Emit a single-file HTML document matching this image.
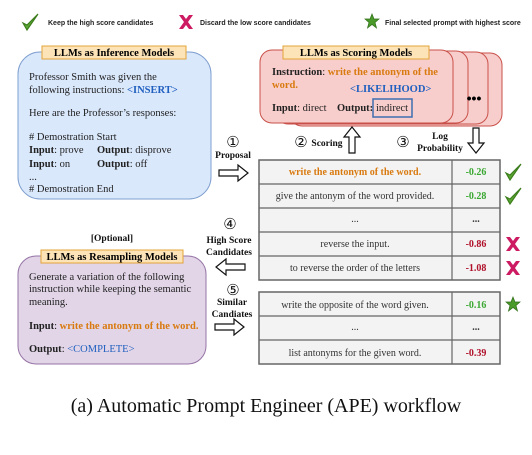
<!DOCTYPE html>
<html><head><style>
html,body{margin:0;padding:0;background:#fff;}
svg{display:block;}
.s{font-family:"Liberation Serif",serif;}
.a{font-family:"Liberation Sans",sans-serif;}
</style></head><body>
<svg width="532" height="455" viewBox="0 0 532 455" xmlns="http://www.w3.org/2000/svg">
<defs>
<g id="chk"><path d="M-7,1 L-3,8 L8,-8 L-3,3 Z" fill="#5aa832" stroke="#3d7d1d" stroke-width="1.2"/></g>
<g id="xx"><path d="M-7,-7 L-3,-7 L0,-3 L3,-7 L7,-7 L2,0 L7,7 L3,7 L0,3 L-3,7 L-7,7 L-2,0 Z" fill="#cc1a63"/></g>
<g id="star"><polygon points="0,-7 2,-2 7,-2 3,1.5 4.5,7 0,3.5 -4.5,7 -3,1.5 -7,-2 -2,-2" fill="#4a9a2a" stroke="#2f6d18" stroke-width="0.7"/></g>
</defs>
<use href="#chk" x="30" y="22"/>
<text x="48" y="25" class="a" font-size="7" font-weight="bold" fill="#222">Keep the high score candidates</text>
<use href="#xx" x="186" y="22"/>
<text x="200" y="25" class="a" font-size="7" font-weight="bold" fill="#222">Discard the low score candidates</text>
<use href="#star" x="372" y="21"/>
<text x="385" y="25" class="a" font-size="7" font-weight="bold" fill="#222">Final selected prompt with highest score</text>

<rect x="18" y="52" width="193" height="147" rx="22" fill="#dae8fc" stroke="#7f9fcf" stroke-width="1"/>
<rect x="42" y="46" width="144" height="13" fill="#fde4b8" stroke="#e3a33a" stroke-width="1"/>
<text x="114" y="56" text-anchor="middle" class="s" font-size="10.5" font-weight="bold">LLMs as Inference Models</text>
<g class="s" font-size="10.5" fill="#222">
<text x="29" y="80">Professor Smith was given the</text>
<text x="29" y="93">following instructions: <tspan fill="#1f5fbf" font-weight="bold">&lt;INSERT&gt;</tspan></text>
<text x="29" y="116">Here are the Professor’s responses:</text>
<text x="29" y="140"># Demostration Start</text>
<text x="29" y="153"><tspan font-weight="bold">Input</tspan>: prove</text><text x="97" y="153"><tspan font-weight="bold">Output</tspan>: disprove</text>
<text x="29" y="167"><tspan font-weight="bold">Input</tspan>: on</text><text x="97" y="167"><tspan font-weight="bold">Output</tspan>: off</text>
<text x="29" y="180">...</text>
<text x="29" y="192"># Demostration End</text>
</g>

<rect x="290" y="53" width="212" height="73" rx="12" fill="#f8cecc" stroke="#c9504a"/>
<rect x="276" y="52" width="212" height="72" rx="12" fill="#f8cecc" stroke="#c9504a"/>
<rect x="268" y="51" width="200" height="72" rx="12" fill="#f8cecc" stroke="#c9504a"/>
<rect x="260" y="50" width="193" height="73" rx="12" fill="#f8cecc" stroke="#c9504a"/>
<text x="474" y="103" text-anchor="middle" font-size="14" font-weight="bold" class="a">•••</text>
<rect x="283" y="46" width="146" height="13" fill="#fde4b8" stroke="#e3a33a"/>
<text x="356" y="56" text-anchor="middle" class="s" font-size="10.5" font-weight="bold">LLMs as Scoring Models</text>
<g class="s" font-size="10.5" fill="#222">
<text x="272" y="75"><tspan font-weight="bold">Instruction</tspan>: <tspan fill="#d97a10" font-weight="bold">write the antonym of the</tspan></text>
<text x="272" y="88" fill="#d97a10" font-weight="bold">word.</text>
<text x="350" y="92" fill="#1f5fbf" font-weight="bold">&lt;LIKELIHOOD&gt;</text>
<text x="272" y="111"><tspan font-weight="bold">Input</tspan>: direct</text>
<text x="337" y="111" font-weight="bold">Output:</text>
<text x="376" y="111">indirect</text>
</g>
<rect x="373" y="99" width="39" height="18" fill="none" stroke="#3c6fb0" stroke-width="1.5"/>

<g class="s" font-weight="bold" font-size="9.5" text-anchor="middle" fill="#111">
<text x="233" y="147" font-size="15" font-weight="normal">①</text>
<text x="233" y="158">Proposal</text>
<text x="301" y="147" font-size="15" font-weight="normal">②</text>
<text x="327" y="146">Scoring</text>
<text x="403" y="147" font-size="15" font-weight="normal">③</text>
<text x="440" y="139">Log</text>
<text x="440" y="151">Probability</text>
<text x="230" y="229" font-size="15" font-weight="normal">④</text>
<text x="229" y="243">High Score</text>
<text x="229" y="255">Candidates</text>
<text x="233" y="295" font-size="15" font-weight="normal">⑤</text>
<text x="232" y="305">Similar</text>
<text x="232" y="317">Candiates</text>
<text x="112" y="241">[Optional]</text>
</g>
<g fill="#fff" stroke="#111" stroke-width="1.2">
<polygon points="219,170 238,170 238,165 248,173 238,181 238,176 219,176"/>
<polygon points="349,153 349,137 344,137 352,127 360,137 355,137 355,153"/>
<polygon points="473,128 473,143 468,143 476,153 484,143 479,143 479,128"/>
<polygon points="245,264 226,264 226,259 216,267 226,275 226,270 245,270"/>
<polygon points="215,324 234,324 234,319 244,327 234,335 234,330 215,330"/>
</g>

<g stroke="#666" stroke-width="1.5" fill="#f3f3f3">
<rect x="259" y="160" width="241" height="120"/>
<rect x="259" y="292" width="241" height="72"/>
</g>
<g stroke="#666" stroke-width="1.2">
<line x1="452" y1="160" x2="452" y2="280"/>
<line x1="452" y1="292" x2="452" y2="364"/>
<line x1="259" y1="184" x2="500" y2="184"/>
<line x1="259" y1="208" x2="500" y2="208"/>
<line x1="259" y1="232" x2="500" y2="232"/>
<line x1="259" y1="256" x2="500" y2="256"/>
<line x1="259" y1="316" x2="500" y2="316"/>
<line x1="259" y1="340" x2="500" y2="340"/>
</g>
<g class="s" font-size="10" text-anchor="middle" fill="#333">
<text x="355" y="175" fill="#d97a10" font-weight="bold">write the antonym of the word.</text>
<text x="355" y="199">give the antonym of the word provided.</text>
<text x="355" y="222">...</text>
<text x="355" y="247">reverse the input.</text>
<text x="355" y="271">to reverse the order of the letters</text>
<text x="355" y="308">write the opposite of the word given.</text>
<text x="355" y="330">...</text>
<text x="355" y="356">list antonyms for the given word.</text>
</g>
<g class="s" font-size="10" font-weight="bold" text-anchor="middle">
<text x="476" y="175" fill="#3aa832">-0.26</text>
<text x="476" y="199" fill="#3aa832">-0.28</text>
<text x="476" y="222" fill="#333">...</text>
<text x="476" y="247" fill="#b0102a">-0.86</text>
<text x="476" y="271" fill="#b0102a">-1.08</text>
<text x="476" y="308" fill="#3aa832">-0.16</text>
<text x="476" y="330" fill="#333">...</text>
<text x="476" y="356" fill="#b0102a">-0.39</text>
</g>
<use href="#chk" x="513" y="172"/>
<use href="#chk" x="513" y="196"/>
<use href="#xx" x="513" y="244"/>
<use href="#xx" x="513" y="268"/>
<use href="#star" x="513" y="304"/>

<rect x="18" y="256" width="188" height="108" rx="18" fill="#e1d5e7" stroke="#9673a6"/>
<rect x="41" y="250" width="142" height="13" fill="#fde4b8" stroke="#e3a33a"/>
<text x="112" y="260" text-anchor="middle" class="s" font-size="10.5" font-weight="bold">LLMs as Resampling Models</text>
<g class="s" font-size="10.5" fill="#222">
<text x="29" y="280">Generate a variation of the following</text>
<text x="29" y="292">instruction while keeping the semantic</text>
<text x="29" y="305">meaning.</text>
<text x="29" y="329"><tspan font-weight="bold">Input</tspan>: <tspan fill="#d97a10" font-weight="bold">write the antonym of the word.</tspan></text>
<text x="29" y="352"><tspan font-weight="bold">Output</tspan>: <tspan fill="#1f5fbf">&lt;COMPLETE&gt;</tspan></text>
</g>

<text x="266" y="412" text-anchor="middle" class="s" font-size="20" fill="#111">(a) Automatic Prompt Engineer (APE) workflow</text>
</svg>
</body></html>
